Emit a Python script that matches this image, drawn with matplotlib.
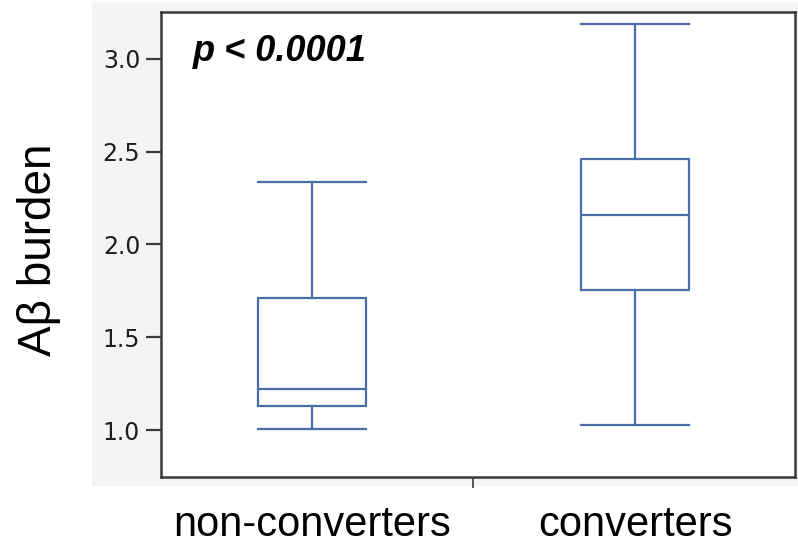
import matplotlib
matplotlib.use("Agg")
import matplotlib.pyplot as plt
from matplotlib.patches import Rectangle

# box summaries
groups = ["non-converters", "converters"]
whislo = [1.005, 1.027]
q1 = [1.13, 1.754]
med = [1.22, 2.157]
q3 = [1.71, 2.46]
whishi = [2.337, 3.19]
yticks = [1.0, 1.5, 2.0, 2.5, 3.0]

BLUE = "#4a6fa8"
W, H = 798, 547

fig = plt.figure(figsize=(W / 100, H / 100), dpi=100)

# light grey panel behind the plot (JMP style)
fig.patches.append(Rectangle((92 / W, 1 - 486 / H), 706 / W, 483 / H,
                             transform=fig.transFigure, fc="#f4f4f4", ec="none",
                             zorder=-5))

ax = fig.add_axes([161 / W, 1 - 477 / H, 634 / W, 465 / H])
ax.set_facecolor("white")

stats = [dict(whislo=lo, q1=a, med=m, q3=b, whishi=hi, fliers=[])
         for lo, a, m, b, hi in zip(whislo, q1, med, q3, whishi)]
line = dict(color=BLUE, lw=1.6)
ax.bxp(stats, positions=[0, 1], widths=0.334, showfliers=False,
       boxprops=line, medianprops=line, whiskerprops=line,
       capprops=line, capwidths=0.334)

ax.set_xlim(-0.467, 1.495)
ax.set_ylim(0.747, 3.253)

ax.set_yticks(yticks)
ax.set_yticklabels([f"{v:.1f}" for v in yticks], fontsize=17, color="#1e1e1e",
                   family="DejaVu Sans")
ax.tick_params(axis="y", length=11, width=1.6, color="#3a3a3a", pad=4)

ax.set_xticks([0, 1])
ax.set_xticklabels(groups, fontsize=30, family="Liberation Sans")
ax.tick_params(axis="x", length=0, pad=20)
ax.set_xticks([0.5], minor=True)
ax.tick_params(axis="x", which="minor", length=8, width=1.2, color="#3a3a3a")

for s in ax.spines.values():
    s.set_color("#3a3a3a")
    s.set_linewidth(1.8)

fig.text(39 / W, 1 - 250 / H, "A\u03b2 burden", rotation=90, ha="center",
         va="center", fontsize=33, family="Liberation Sans")

fig.text(193 / W, 1 - 60.7 / H, "p < 0.0001", fontsize=26, fontweight="bold",
         fontstyle="italic", family="Liberation Sans", va="baseline")

fig.savefig("out.png", dpi=100)
